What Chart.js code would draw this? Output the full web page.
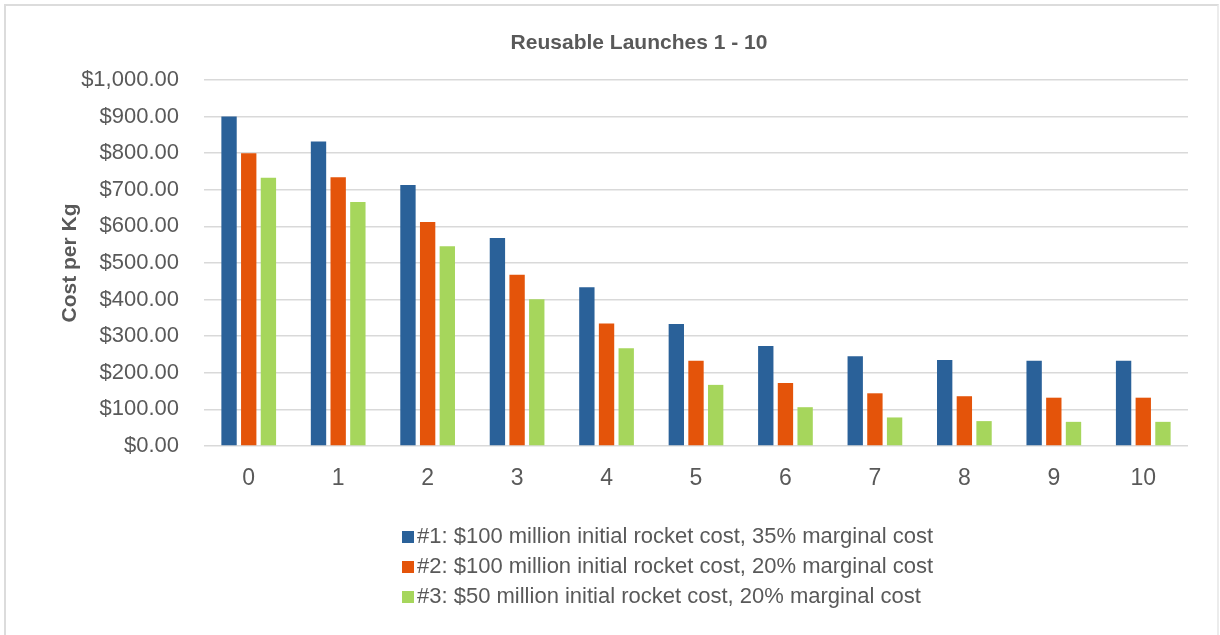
<!DOCTYPE html>
<html>
<head>
<meta charset="utf-8">
<title>Reusable Launches 1 - 10</title>
<script src="https://cdn.jsdelivr.net/npm/chart.js@4.4.1/dist/chart.umd.min.js"></script>
<style>
  body { margin: 0; background: #fff; }
  #wrap { position: relative; width: 1220px; height: 635px; overflow: hidden; }
  #frame {
    position: absolute; left: 4px; top: 4px; width: 1211px; height: 700px;
    border: 2px solid #dcdcdc; border-right-color: #ececec; border-bottom: none;
  }
  canvas { position: absolute; left: 0; top: 0; }
</style>
</head>
<body>
<div id="wrap">
  <div id="frame"></div>
  <canvas id="launchChart" width="1220" height="635"></canvas>
</div>
<script>
// Values (cost per kg, USD)
const launches = ['0', '1', '2', '3', '4', '5', '6', '7', '8', '9', '10'];
const scenario1 = [900, 832, 713, 568, 434, 333, 273, 245, 235, 233, 233];
const scenario2 = [800, 734, 612, 468, 335, 233, 172, 144, 136, 132, 132];
const scenario3 = [733, 667, 546, 401, 267, 167, 106, 78, 68, 66, 66];
const seriesNames = [
    '#1: $100 million initial rocket cost, 35% marginal cost',
    '#2: $100 million initial rocket cost, 20% marginal cost',
    '#3: $50 million initial rocket cost, 20% marginal cost'
];
const titleText = 'Reusable Launches 1 - 10';

const textGray = '#595959';
const fontFamily = '"Liberation Sans", Arial, sans-serif';

// title drawn by hand so it can sit off-centre like the original
const titlePlugin = {
    id: 'titleAt',
    afterDraw(chart) {
        const ctx = chart.ctx;
        ctx.save();
        ctx.font = 'bold 21px ' + fontFamily;
        ctx.fillStyle = textGray;
        ctx.textAlign = 'center';
        ctx.textBaseline = 'middle';
        ctx.fillText(titleText, 639, 43);
        ctx.restore();
    }
};

// legend: one series per row under the axis
const stackedLegend = {
    id: 'stackedLegend',
    afterDraw(chart) {
        const ctx = chart.ctx;
        ctx.save();
        ctx.font = '22px ' + fontFamily;
        ctx.textBaseline = 'alphabetic';
        ctx.textAlign = 'left';
        chart.data.datasets.forEach((ds, i) => {
            const baseY = 543 + i * 30;
            ctx.fillStyle = ds.backgroundColor;
            ctx.fillRect(402, baseY - 12, 12, 12);
            ctx.fillStyle = textGray;
            ctx.fillText(ds.label, 417, baseY);
        });
        ctx.restore();
    }
};

const launchChart = new Chart(document.getElementById('launchChart'), {
    type: 'bar',
    data: {
        labels: launches,
        datasets: [
            { label: seriesNames[0], data: scenario1, backgroundColor: '#2a6199' },
            { label: seriesNames[1], data: scenario2, backgroundColor: '#e4540a' },
            { label: seriesNames[2], data: scenario3, backgroundColor: '#a6d65c' }
        ]
    },
    options: {
        responsive: false,
        animation: false,
        layout: { padding: { left: 58, right: 32, top: 80, bottom: 149 } },
        datasets: {
            bar: { categoryPercentage: 0.66, barPercentage: 0.78 }
        },
        plugins: {
            legend: { display: false },
            title: { display: false },
            tooltip: { enabled: false }
        },
        scales: {
            x: {
                grid: { display: false },
                border: { display: false },
                afterFit: (scale) => { scale.height = 40; },
                ticks: {
                    color: textGray,
                    padding: 11,
                    font: { family: fontFamily, size: 23 }
                }
            },
            y: {
                min: 0,
                max: 1000,
                afterFit: (scale) => { scale.width = 146; },
                ticks: {
                    stepSize: 100,
                    color: textGray,
                    padding: 25,
                    font: { family: fontFamily, size: 22 },
                    callback: (v) => '$' + v.toLocaleString('en-US', { minimumFractionDigits: 2, maximumFractionDigits: 2 })
                },
                grid: { color: '#d9d9d9', lineWidth: 1.5, drawTicks: false },
                border: { display: false },
                title: {
                    display: true,
                    text: 'Cost per Kg',
                    color: textGray,
                    padding: { top: 0, bottom: 0 },
                    font: { family: fontFamily, size: 21, weight: 'bold' }
                }
            }
        }
    },
    plugins: [titlePlugin, stackedLegend]
});
</script>
</body>
</html>
